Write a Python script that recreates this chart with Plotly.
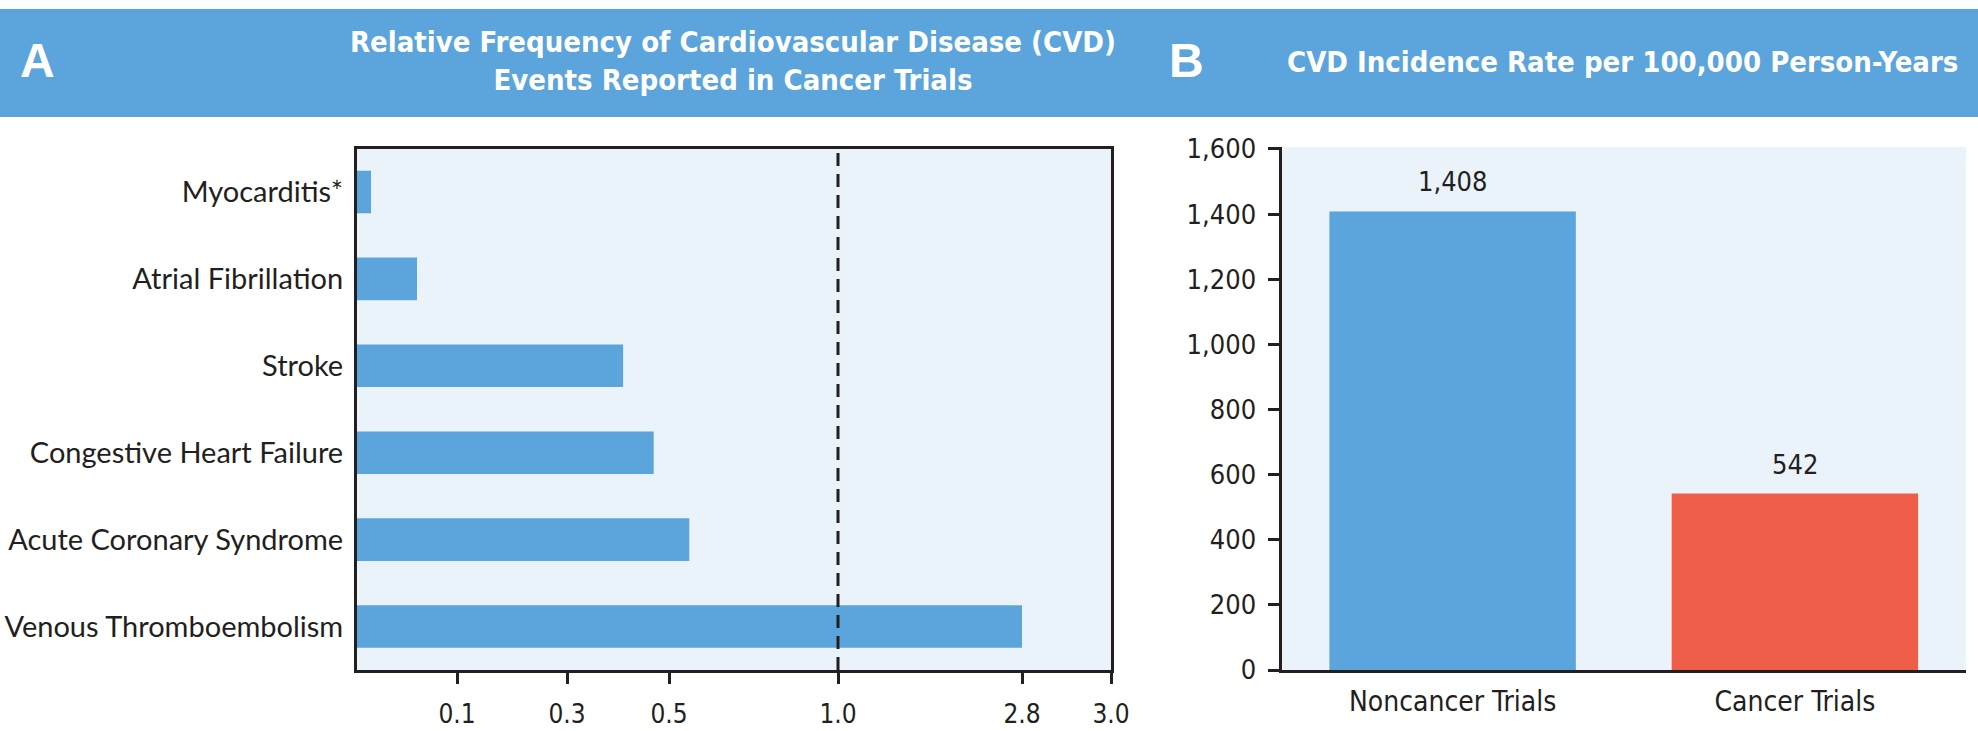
import numpy as np
import plotly.graph_objects as go

# Panel A: relative frequency of CVD events reported in cancer trials
events = ['Myocarditis*', 'Atrial Fibrillation', 'Stroke', 'Congestive Heart Failure',
          'Acute Coronary Syndrome', 'Venous Thromboembolism']
rel_freq = [0.014, 0.06, 0.41, 0.47, 0.56, 2.8]
freq_ticks = [0.1, 0.3, 0.5, 1.0, 2.8, 3.0]
freq_tick_labels = ['0.1', '0.3', '0.5', '1.0', '2.8', '3.0']

# Panel B: CVD incidence rate per 100,000 person-years
trial_types = ['Noncancer Trials', 'Cancer Trials']
incidence = [1408, 542]
incidence_ticks = [0, 200, 400, 600, 800, 1000, 1200, 1400, 1600]

# the frequency axis of panel A is drawn on a broken (non linear) scale:
# anchor values and where they sit along the axis
scale_vals = [0, 0.1, 0.3, 0.5, 1.0, 2.8, 3.0]
scale_pos = [0, 100, 210, 312, 481, 665, 754]


def freq_scale(v):
    return np.interp(v, scale_vals, scale_pos)


W, H = 1978, 731
BLUE = '#5BA5DC'
RED = '#EF5E49'
BG = '#EAF2FA'
INK = '#231F20'
NARROW = 'DejaVu Sans Condensed, Roboto, sans-serif'
SANS = 'Lato, Noto Sans, sans-serif'

fig = go.Figure()

fig.add_trace(go.Bar(
    y=events,
    x=freq_scale(rel_freq),
    customdata=rel_freq,
    orientation='h',
    width=0.49,
    marker=dict(color=BLUE, line=dict(width=0)),
    hovertemplate='%{y}: %{customdata}<extra></extra>',
    xaxis='x', yaxis='y',
))

fig.add_trace(go.Bar(
    x=trial_types,
    y=incidence,
    width=0.72,
    marker=dict(color=[BLUE, RED], line=dict(width=0)),
    hovertemplate='%{x}: %{y:,}<extra></extra>',
    xaxis='x2', yaxis='y2',
))

# value labels above the bars of panel B
for t, v in zip(trial_types, incidence):
    fig.add_annotation(x=t, y=v, xref='x2', yref='y2', text=f'{v:,}',
                       showarrow=False, yanchor='bottom', yshift=12,
                       font=dict(family=NARROW, size=27, color=INK))

# reference line at 1.0
fig.add_shape(type='line', xref='x', yref='y domain',
              x0=freq_scale(1.0), x1=freq_scale(1.0), y0=0, y1=1,
              line=dict(color=INK, width=3, dash='13px,8px'), layer='above')

# blue header band
fig.add_shape(type='rect', xref='paper', yref='paper', x0=0, x1=1,
              y0=1 - 117 / H, y1=1 - 9 / H, fillcolor=BLUE,
              line=dict(width=0), layer='below')

head_font = dict(family=NARROW, size=29, color='white', weight='bold')
letter_font = dict(family='Liberation Sans, Arial', size=48, color='white', weight='bold')


def header_text(x, y, text, font):
    fig.add_annotation(xref='paper', yref='paper', x=x / W, y=1 - y / H, text=text,
                       showarrow=False, xanchor='center', yanchor='middle', font=font)


header_text(37, 61, 'A', letter_font)
header_text(1186, 61, 'B', letter_font)
header_text(733, 61, 'Relative Frequency of Cardiovascular Disease (CVD)<br>'
                     'Events Reported in Cancer Trials', head_font)
header_text(1622, 62, 'CVD Incidence Rate per 100,000 Person-Years', head_font)

fig.update_layout(
    width=W, height=H,
    margin=dict(l=0, r=0, t=0, b=0),
    paper_bgcolor='white',
    plot_bgcolor=BG,
    showlegend=False,
    xaxis=dict(
        domain=[357 / W, 1111 / W],
        range=[0, 754],
        tickvals=freq_scale(freq_ticks),
        ticktext=freq_tick_labels,
        ticks='outside', ticklen=11, tickwidth=3, tickcolor=INK,
        showline=True, mirror=True, linewidth=3, linecolor=INK,
        showgrid=False, zeroline=False,
        ticklabelstandoff=8,
        tickfont=dict(family=NARROW, size=26, color=INK),
        automargin=False,
    ),
    yaxis=dict(
        domain=[1 - 670 / H, 1 - 148.5 / H],
        autorange='reversed',
        ticks='',
        showline=True, mirror=True, linewidth=3, linecolor=INK,
        showgrid=False, zeroline=False,
        ticklabelstandoff=5,
        tickfont=dict(family=SANS, size=29, color=INK),
        automargin=False,
    ),
    xaxis2=dict(
        domain=[1281.5 / W, 1966 / W],
        anchor='y2',
        range=[-0.5, 1.5],
        ticks='',
        showline=True, linewidth=3, linecolor=INK,
        showgrid=False, zeroline=False,
        ticklabelstandoff=4,
        tickfont=dict(family=NARROW, size=28, color=INK),
        automargin=False,
    ),
    yaxis2=dict(
        domain=[1 - 670 / H, 1 - 147 / H],
        anchor='x2',
        range=[0, 1606],
        tickvals=incidence_ticks,
        tickformat=',',
        ticks='outside', ticklen=11, tickwidth=3, tickcolor=INK,
        showline=True, linewidth=3, linecolor=INK,
        showgrid=False, zeroline=False,
        ticklabelstandoff=6,
        tickfont=dict(family=NARROW, size=27, color=INK),
        automargin=False,
    ),
)

# drop the browser's default page margin so the figure sits flush in the window
fig.write_html('out.html',
               config={'displayModeBar': False},
               post_script="document.body.style.margin='0';"
                           "document.body.style.overflow='hidden';")
